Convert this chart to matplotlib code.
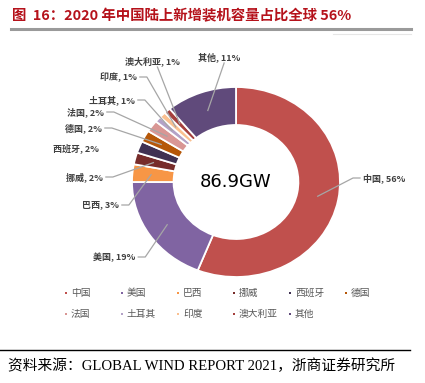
import numpy as np
import matplotlib
matplotlib.use("Agg")
import matplotlib.pyplot as plt

plt.rcParams['font.family'] = ['Noto Sans CJK SC', 'DejaVu Sans']

# data
countries = ['中国', '美国', '巴西', '挪威', '西班牙', '德国', '法国', '土耳其', '印度', '澳大利亚', '其他']
shares = [56, 19, 3, 2, 2, 2, 2, 1, 1, 1, 11]
colors = ['#C0504D', '#8064A2', '#F79646', '#772C2A', '#403152', '#B65708',
          '#D99694', '#B3A2C7', '#FAC090', '#A5403D', '#604A7B']
total_text = '86.9GW'

# layout (pixels)
W, H = 425, 383
cx, cy, RX, RY = 236, 182, 104, 95

# label position: (x, y, ha, stub direction) ; stub = None -> no leader line
label_pos = [
    (363, 178, 'left', -1),   # 中国
    (93, 257, 'left', 1),     # 美国
    (82, 205, 'left', 1),     # 巴西
    (66, 177, 'left', 1),     # 挪威
    (53, 148, 'left', None),  # 西班牙
    (65, 128, 'left', 1),     # 德国
    (67, 112, 'left', 1),     # 法国
    (89, 100, 'left', 1),     # 土耳其
    (100, 77, 'left', 1),     # 印度
    (125, 61, 'left', 0),     # 澳大利亚
    (198, 57, 'left', 0),     # 其他
]

fig = plt.figure(figsize=(W / 100, H / 100), dpi=100)

ax = fig.add_axes([(cx - RX) / W, 1 - (cy + RY) / H, 2 * RX / W, 2 * RY / H])
wedges, _ = ax.pie(shares, colors=colors, startangle=90, counterclock=False,
                   radius=1.0,
                   wedgeprops=dict(width=0.4, edgecolor='white', linewidth=1.3))
ax.set_aspect('auto')
ax.set_xlim(-1, 1)
ax.set_ylim(-1, 1)
ax.axis('off')

ov = fig.add_axes([0, 0, 1, 1], zorder=5)
ov.set_xlim(0, W)
ov.set_ylim(H, 0)
ov.axis('off')
ov.patch.set_alpha(0)

# title
ov.text(12, 16, '图  16：2020 年中国陆上新增装机容量占比全球 56%', fontsize=10.4,
        fontweight='bold', color='#B5121B', va='center', ha='left')
ov.plot([11, 411], [29, 29], color='#9A9A9A', lw=2.2)
ov.plot([333, 411], [34, 34], color='#E6E6E6', lw=0.8)

# centre text
ov.text(cx, cy, total_text, fontsize=13, ha='center', va='center', color='black',
        family=['DejaVu Sans'])

# labels and leader lines
fig.canvas.draw()
renderer = fig.canvas.get_renderer()
cum = np.cumsum([0] + shares[:-1])
for i, (name, val) in enumerate(zip(countries, shares)):
    lx, ly, ha, stub = label_pos[i]
    txt = ov.text(lx, ly, f'{name}, {val}%', fontsize=6.5, color='#404040',
                  ha=ha, va='center', fontweight='bold')
    if stub is None:
        continue
    mid = np.deg2rad(90 - (cum[i] + val / 2) / 100 * 360)
    r = 0.8 if val > 5 else 0.82
    ax_x = cx + RX * r * np.cos(mid)
    ax_y = cy - RY * r * np.sin(mid)
    bb = txt.get_window_extent(renderer=renderer)
    if stub == 1:
        x0 = bb.x1 + 3
        pts = [(x0, ly), (x0 + 7, ly), (ax_x, ax_y)]
    elif stub == -1:
        x0 = bb.x0 - 3
        pts = [(x0, ly), (x0 - 7, ly), (ax_x, ax_y)]
    else:
        x0 = (bb.x0 + bb.x1) / 2 + 5
        pts = [(x0, ly + 6), (ax_x, ax_y)]
    xs, ys = zip(*pts)
    ov.plot(xs, ys, color='#A6A6A6', lw=0.9)

# legend
for i, (name, c) in enumerate(zip(countries, colors)):
    row, col = divmod(i, 6)
    x = 66 + 56 * col
    y = 293 + 21 * row
    ov.scatter([x], [y], marker='s', s=3, color=c, linewidths=0)
    ov.text(x + 5, y, name, fontsize=7, color='#595959', va='center', ha='left')

# source
ov.plot([0, 410], [350, 350], color='black', lw=1)
ov.text(8, 366, '资料来源：GLOBAL WIND REPORT 2021，浙商证券研究所', fontsize=10.6,
        va='center', ha='left', color='black',
        family=['Liberation Serif', 'Noto Sans CJK SC'])

fig.savefig('out.png', dpi=100)
